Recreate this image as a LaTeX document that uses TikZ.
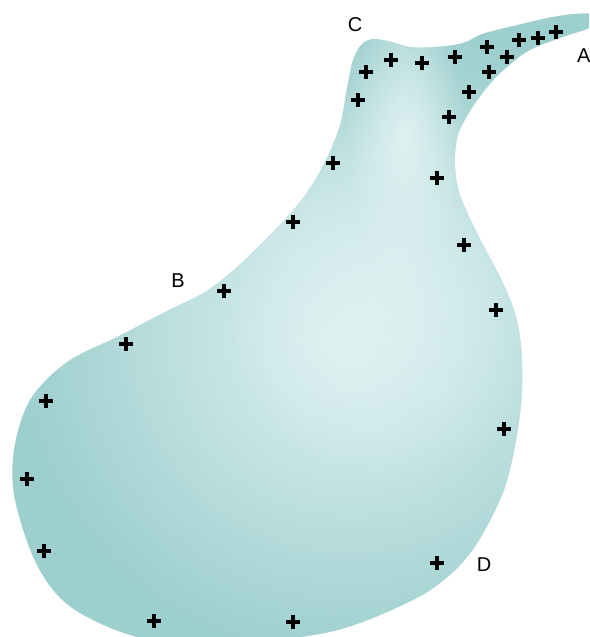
\documentclass[tikz,border=0pt]{standalone}
\usepackage{fontspec}
\setmainfont{Liberation Sans}
\usetikzlibrary{fadings}
\tikzfading[name=softspot, inner color=transparent!0, outer color=transparent!100]
\begin{document}
\begin{tikzpicture}[x=1pt,y=-1pt,
  plusmark/.pic={\draw[line width=3.2pt,black] (-7,0)--(7,0) (0,-7)--(0,7);},
  lbl/.style={font=\fontsize{20}{23}\selectfont, inner sep=0pt}]
\definecolor{bodybase}{RGB}{158,207,207}
\definecolor{bodylight}{RGB}{224,242,242}
\useasboundingbox (0,0) rectangle (589,637);
\clip (0,0) rectangle (589,637);
\def\outline{plot[smooth cycle, tension=0.55] coordinates {
 (347,88) (353,60) (362,44) (374,39) (392,42) (410,47) (435,47) (463,43) (482,34) (513,26) (547,18) (573,14) (592,14) (600,21) (590,28)
 (563,37) (530,50) (507,67) (490,84) (472,108) (458,135) (455,165) (460,195) (478,235) (500,277) (514,310) (521,345) (522,390) (517,435)
 (504,490) (478,542) (451,574) (413,600) (338,630) (250,642) (150,640) (75,610) (38,567) (15,500) (14,450) (30,400) (67,362)
 (117,337) (167,311) (205,292) (238,266) (273,232) (303,198) (325,162) (340,125)}}
\begin{scope}
  \clip \outline;
  \fill[bodybase] (0,0) rectangle (589,637);
  \fill[bodylight, path fading=softspot] (350,340) ellipse [x radius=330, y radius=320];
  \fill[bodylight, path fading=softspot] (405,140) ellipse [x radius=60, y radius=150];
  \fill[bodylight, path fading=softspot, opacity=0.7] (390,290) ellipse [x radius=170, y radius=200];
\end{scope}
\node[lbl] (C) at (355,25) {C};
\node[lbl, anchor=west] (A) at (577,56) {A};
\node[lbl] (B) at (178,281) {B};
\node[lbl] (D) at (484,565) {D};
\foreach \px/\py in {366/72,391/60,422/63,455/57,487/47,507/57,519/40,538/38,556/32,489/72,469/92,449/117,
  358/100,333/163,437/178,293/222,464/245,224/291,496/310,126/344,46/401,504/429,27/479,44/551,437/563,154/621,293/622}
  \pic at (\px,\py) {plusmark};
\end{tikzpicture}
\end{document}
